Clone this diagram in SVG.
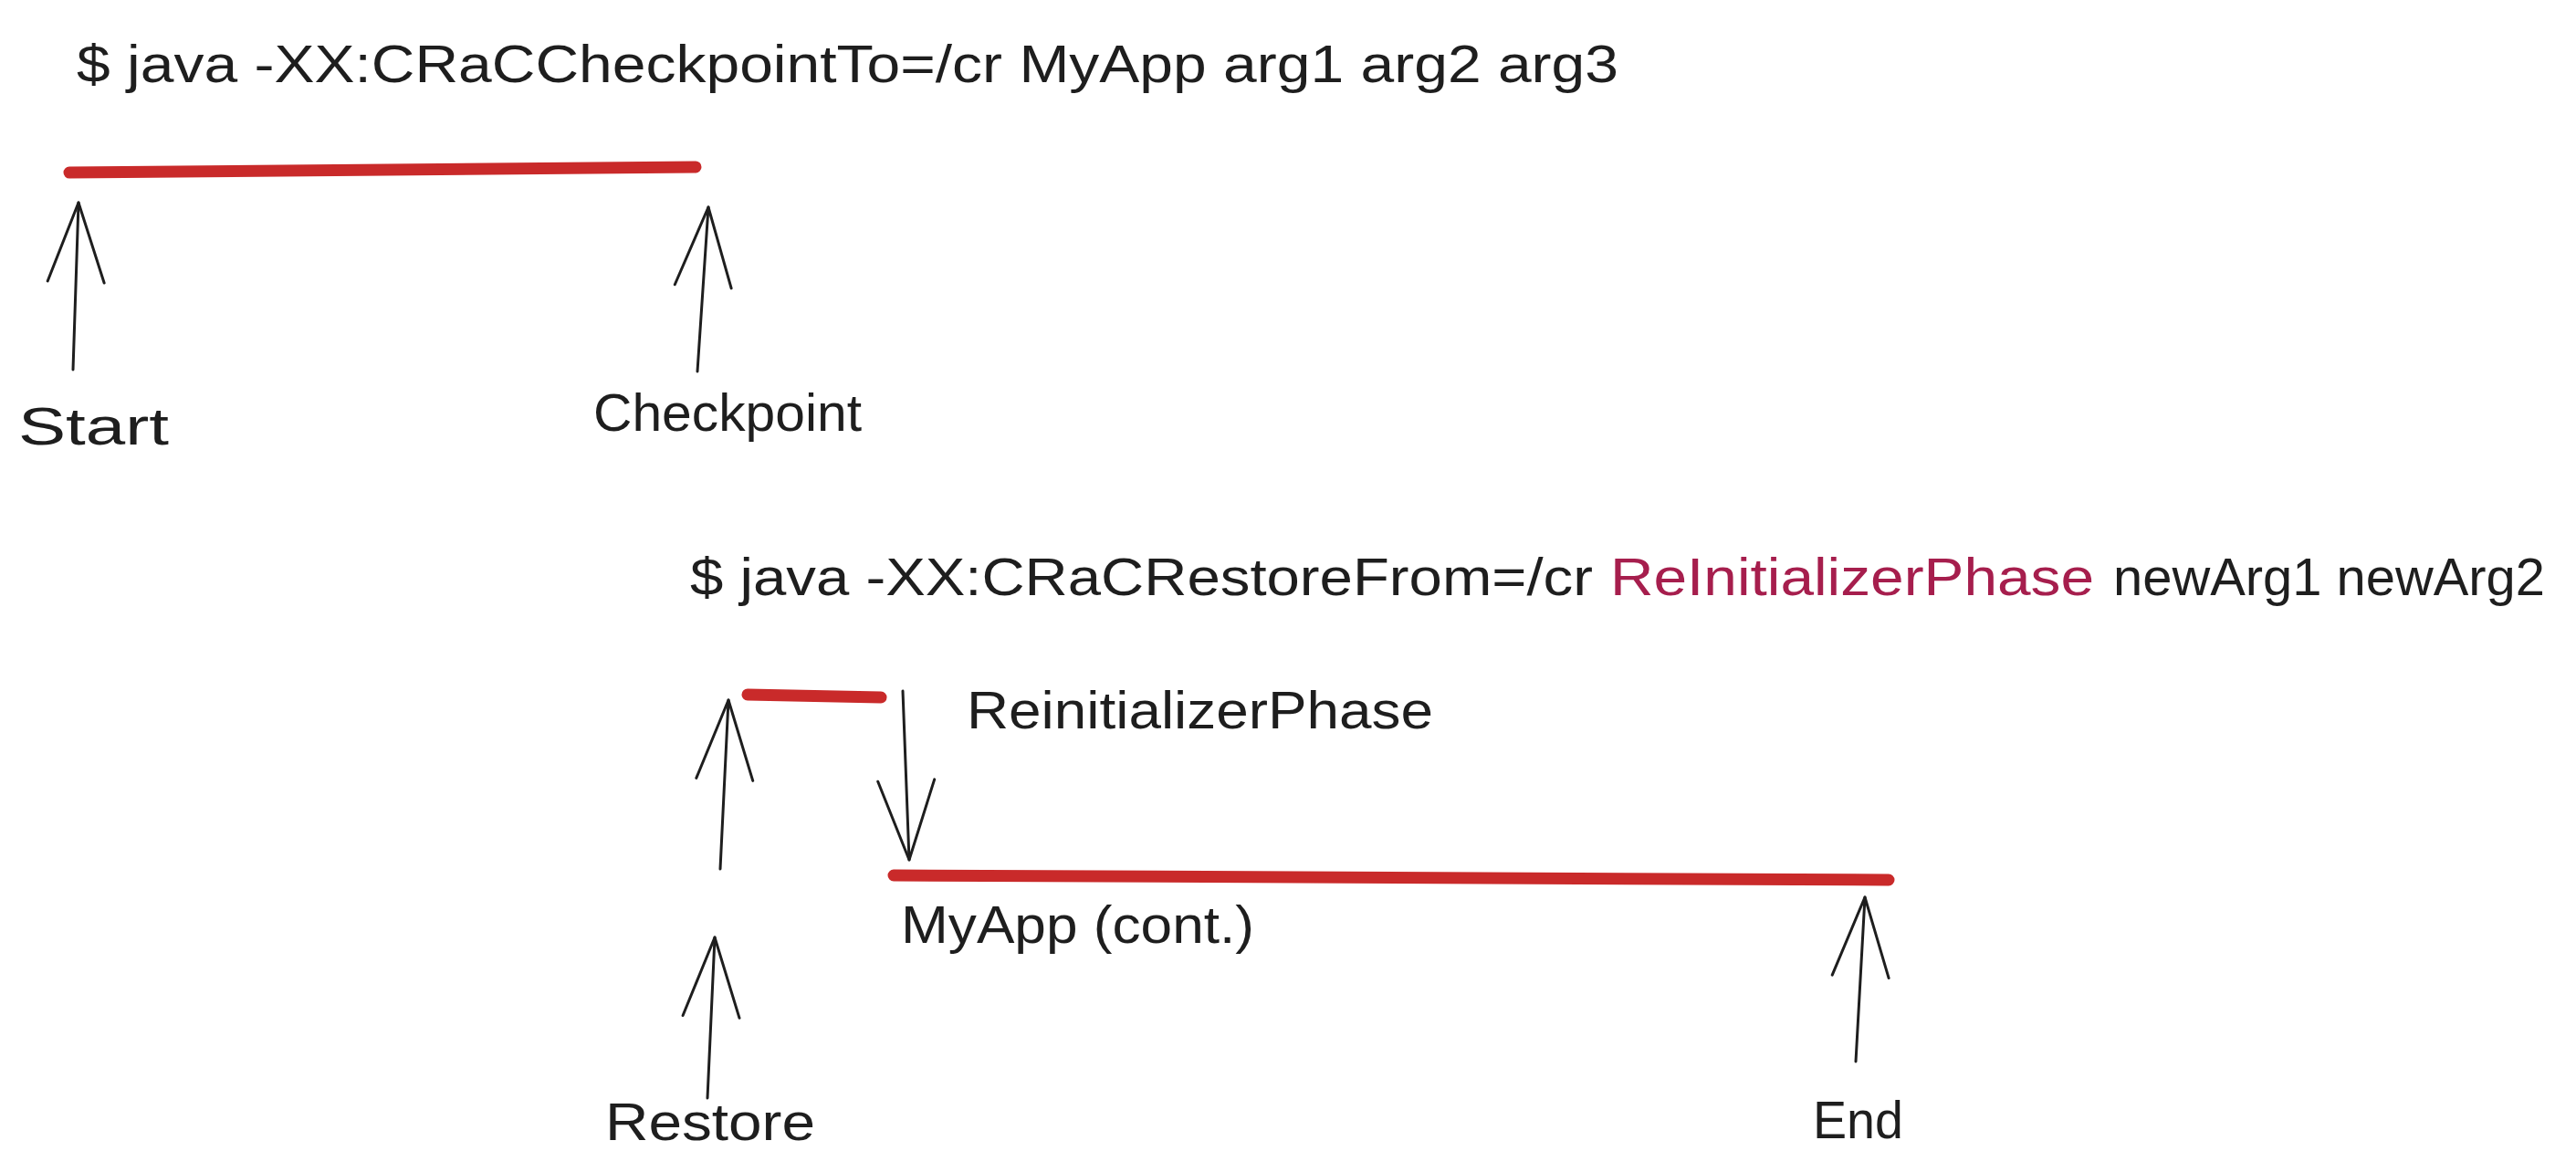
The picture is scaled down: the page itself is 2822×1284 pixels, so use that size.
<svg xmlns="http://www.w3.org/2000/svg" width="2822" height="1284" viewBox="0 0 2822 1284">
  <style>
    .t { font-family: "Liberation Sans", "DejaVu Sans", sans-serif; font-size: 57px; fill: #1e1e1e; }
    .pink { fill: #a61e4d; }
    .bar { stroke: #c92a2a; stroke-width: 13; stroke-linecap: round; fill: none; }
    .arrow { stroke: #1e1e1e; stroke-width: 3; fill: none; stroke-linecap: round; marker-end: url(#head); }
  </style>
  <defs>
    <marker id="head" markerUnits="userSpaceOnUse" markerWidth="100" markerHeight="80" viewBox="-90 -40 100 80" refX="0" refY="0" orient="auto" overflow="visible">
      <path d="M -87 -31 L 0 0 L -87 31" fill="none" stroke="#1e1e1e" stroke-width="3" stroke-linecap="round" stroke-linejoin="round"/>
    </marker>
  </defs>
  <rect width="2822" height="1284" fill="#ffffff"/>

  <g id="title-checkpoint">
    <text class="t" x="84" y="90" textLength="1689" lengthAdjust="spacingAndGlyphs">$ java -XX:CRaCCheckpointTo=/cr MyApp arg1 arg2 arg3</text>
  </g>
  <g id="title-restore">
    <text class="t" x="756" y="652" textLength="989" lengthAdjust="spacingAndGlyphs">$ java -XX:CRaCRestoreFrom=/cr</text>
    <text class="t pink" x="1764" y="652" textLength="530" lengthAdjust="spacingAndGlyphs">ReInitializerPhase</text>
    <text class="t" x="2315" y="652" textLength="473" lengthAdjust="spacingAndGlyphs">newArg1 newArg2</text>
  </g>

  <g id="bar-run1"><path class="bar" d="M 76 189 L 762 183"/></g>
  <g id="bar-reinit"><path class="bar" d="M 819 761 L 965 764"/></g>
  <g id="bar-run2"><path class="bar" d="M 979 959 L 2069 964"/></g>

  <g id="label-start"><text class="t" x="20" y="487" textLength="165" lengthAdjust="spacingAndGlyphs">Start</text></g>
  <g id="label-checkpoint"><text class="t" x="650" y="472" textLength="294" lengthAdjust="spacingAndGlyphs">Checkpoint</text></g>
  <g id="label-reinit"><text class="t" x="1059" y="798" textLength="511" lengthAdjust="spacingAndGlyphs">ReinitializerPhase</text></g>
  <g id="label-myapp"><text class="t" x="987" y="1033" textLength="387" lengthAdjust="spacingAndGlyphs">MyApp (cont.)</text></g>
  <g id="label-restore"><text class="t" x="663" y="1249" textLength="230" lengthAdjust="spacingAndGlyphs">Restore</text></g>
  <g id="label-end"><text class="t" x="1986" y="1247" textLength="99" lengthAdjust="spacingAndGlyphs">End</text></g>

  <g id="connectors">
    <path class="arrow" d="M 80 405 L 86 222"/>
    <path class="arrow" d="M 764 407 L 776 227"/>
    <path class="arrow" d="M 789 952 L 798 767"/>
    <path class="arrow" d="M 775 1203 L 783 1027"/>
    <path class="arrow" d="M 989 757 L 996 942"/>
    <path class="arrow" d="M 2033 1163 L 2043 983"/>
  </g>
</svg>
